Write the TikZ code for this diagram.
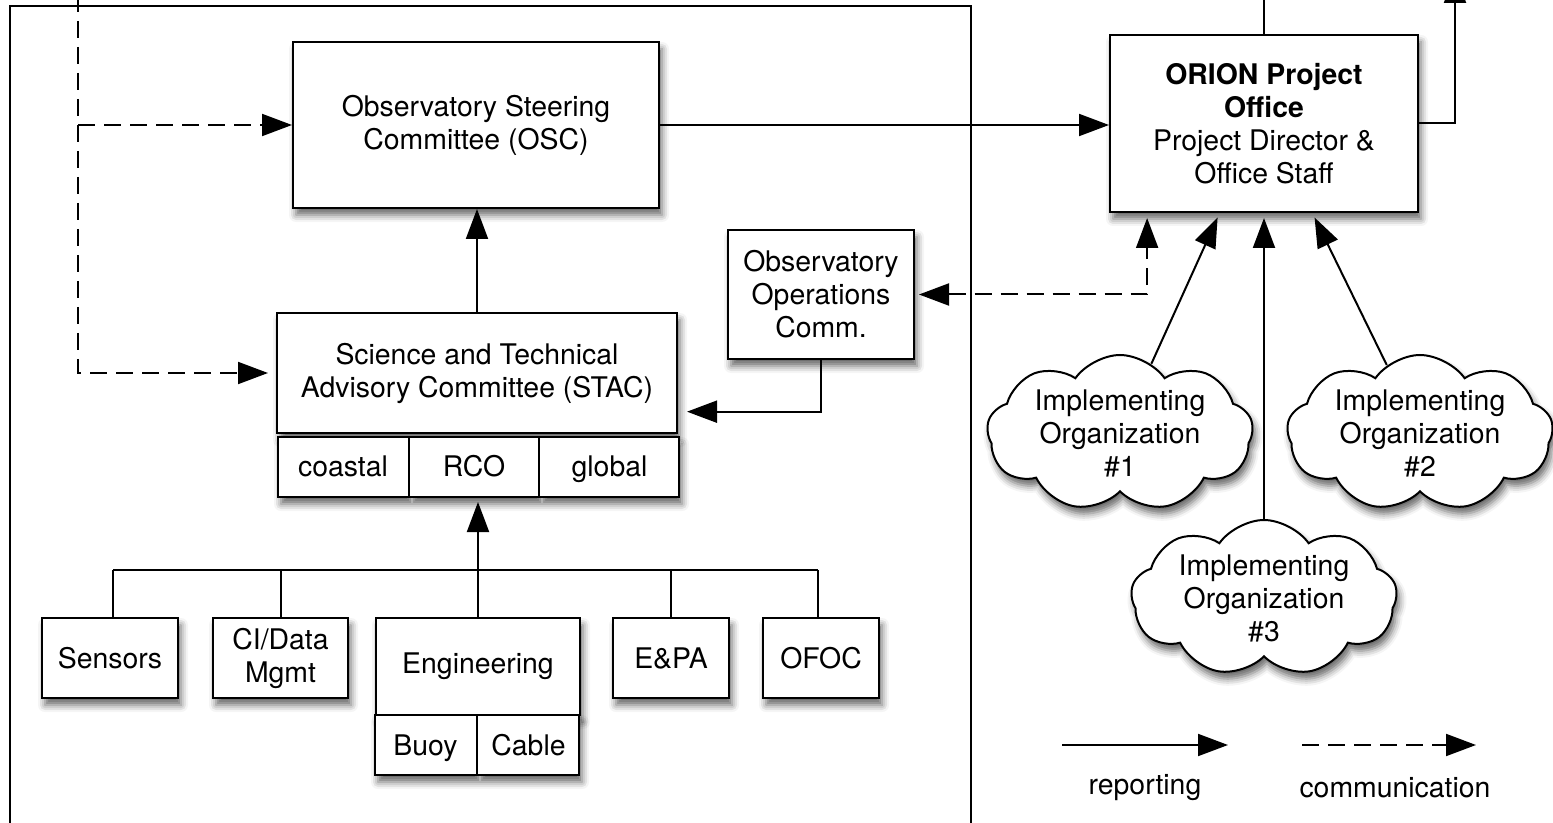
\documentclass[tikz,border=0pt]{standalone}
\usepackage{fontspec}
\setmainfont{TeX Gyre Heros}
\usetikzlibrary{arrows.meta,shapes.symbols,shapes.multipart,shadows.blur,calc}
\begin{document}
\begin{tikzpicture}[x=0.5pt,y=-0.5pt,
  font=\fontsize{14.2}{16.5}\selectfont,
  line width=1pt,
  >={Triangle[length=15pt,width=11pt]},
  dasharr/.style={dash pattern=on 8.5pt off 4.5pt},
  shad/.style={blur shadow={shadow xshift=1.5pt,shadow yshift=-3.5pt,shadow blur radius=3.5pt,shadow opacity=60}},
  box/.style={draw,fill=white,align=center,inner sep=0pt,shad},
  splitbox/.style={draw,fill=white,inner sep=0pt,rectangle split,rectangle split horizontal,shad},
  org/.style={cloud,cloud puffs=9,cloud puff arc=110,cloud ignores aspect,draw,fill=white,inner sep=0pt,
    minimum width=133pt,minimum height=78pt,shad}
]
\useasboundingbox (0,0) rectangle (1553,823);
\draw (10,6) rectangle (971,850);

% boxes
\node[box,minimum width=183pt,minimum height=83pt] (OSC) at (476,125) {Observatory Steering\\Committee (OSC)};
\node[box,minimum width=200pt,minimum height=60pt] (STAC) at (477,373) {Science and Technical\\Advisory Committee (STAC)};
\node[splitbox,rectangle split parts=3] (sub) at (478.5,467)
  {\makebox[65pt]{\rule[-10pt]{0pt}{30pt}coastal}\nodepart{two}\makebox[64pt]{\rule[-10pt]{0pt}{30pt}RCO}\nodepart{three}\makebox[69.5pt]{\rule[-10pt]{0pt}{30pt}global}};
\node[box,minimum width=93pt,minimum height=64.5pt] (Ops) at (821,294.5) {Observatory\\Operations\\Comm.};
\node[box,minimum width=154pt,minimum height=88.5pt] (ORION) at (1264,123.5) {\textbf{ORION Project}\\\textbf{Office}\\Project Director \&\\Office Staff};

\node[box,minimum width=68pt,minimum height=40pt] (Sensors) at (110,658) {Sensors};
\node[box,minimum width=67.5pt,minimum height=40pt] (CI) at (280.5,658) {CI/Data\\Mgmt};
\node[box,minimum width=102pt,minimum height=48.5pt] (Eng) at (478,666.5) {Engineering};
\node[splitbox,rectangle split parts=2] (bc) at (477,745)
  {\makebox[50.5pt]{\rule[-10pt]{0pt}{30pt}Buoy}\nodepart{two}\makebox[50.5pt]{\rule[-10pt]{0pt}{30pt}Cable}};
\node[box,minimum width=58pt,minimum height=40pt] (EPA) at (671,658) {E\&PA};
\node[box,minimum width=58pt,minimum height=40pt] (OFOC) at (821,658) {OFOC};

% clouds
\node[org,label={[align=center]center:Implementing\\Organization\\\#1}] (IO1) at (1120,433) {};
\node[org,label={[align=center]center:Implementing\\Organization\\\#2}] (IO2) at (1420,433) {};
\node[org,label={[align=center]center:Implementing\\Organization\\\#3}] (IO3) at (1264,598) {};

% coordinates
\coordinate (pD) at ($(ORION.south west)!0.123!(ORION.south east)$);
\coordinate (p1) at ($(ORION.south west)!0.357!(ORION.south east)$);
\coordinate (p3) at ($(ORION.south west)!0.5!(ORION.south east)$);
\coordinate (p2) at ($(ORION.south west)!0.656!(ORION.south east)$);
\coordinate (sE) at ($(STAC.south east)!0.183!(STAC.north east)$);
\coordinate (topL) at (78,-5);
\coordinate (topO) at (1263,-5);
\coordinate (topR) at (1455,-27);
\coordinate (busL) at (113,570);
\coordinate (busR) at (818,570);

% connectors
\draw[->] (STAC.north) -- (STAC.north |- OSC.south);
\draw[->] (OSC.east) -- (OSC.east -| ORION.west);
\draw (ORION.north) -- (ORION.north |- topO);
\draw[->] (ORION.east) -| (topR);
\draw[->,shorten >=4.5pt] (Ops.south) |- (sE);
\draw[dasharr,<->,shorten <=2pt,shorten >=2.5pt] (Ops.east) -| (pD);
\draw[dasharr,->,shorten >=4pt] (topL) |- (STAC.west);
\draw[dasharr,->] (topL |- OSC.west) -- (OSC.west);

\draw[->,shorten >=2.5pt] (IO1) -- (p1);
\draw[->,shorten >=2.5pt] (IO3) -- (p3);
\draw[->,shorten >=2.5pt] (IO2) -- (p2);

\draw (busL) -- (busR);
\draw (busL) -- (busL |- Sensors.north);
\draw (CI.north) -- (CI.north |- busL);
\draw (EPA.north) -- (EPA.north |- busL);
\draw (busR) -- (busR |- OFOC.north);
\draw[->,shorten >=2pt] (Eng.north) -- (Eng.north |- sub.south);

% legend
\coordinate (la) at (1062,745);
\coordinate (lb) at (1228,745);
\coordinate (lc) at (1302,745);
\coordinate (ld) at (1476,745);
\draw[->] (la) -- (lb);
\draw[dasharr,->] (lc) -- (ld);
\node (rep) at (1145,788) {reporting};
\node (com) at (1395,788) {communication};
\end{tikzpicture}
\end{document}
